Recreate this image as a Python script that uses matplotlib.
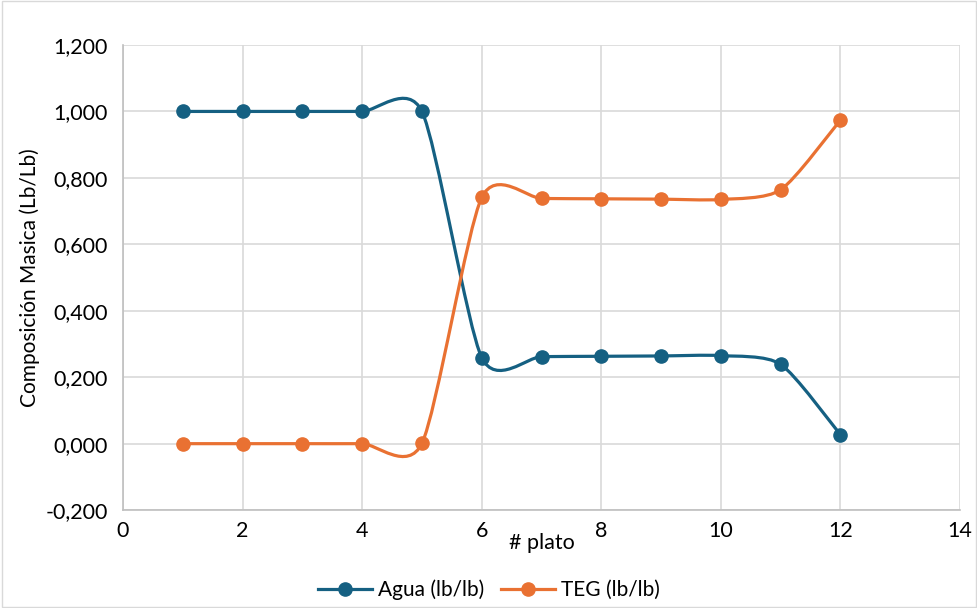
import numpy as np
import matplotlib
matplotlib.use('Agg')
import matplotlib.pyplot as plt
from matplotlib.path import Path
from matplotlib.patches import PathPatch
from matplotlib.lines import Line2D
from matplotlib.ticker import FuncFormatter

platos = [1, 2, 3, 4, 5, 6, 7, 8, 9, 10, 11, 12]
agua = [1.0, 1.0, 1.0, 1.0, 1.0, 0.259, 0.262, 0.263, 0.264, 0.265, 0.239, 0.027]
teg = [0.0, 0.0, 0.0, 0.0, 0.001, 0.741, 0.738, 0.737, 0.736, 0.735, 0.764, 0.974]

azul = '#156082'
naranja = '#E97132'

plt.rcParams['font.family'] = ['Lato', 'DejaVu Sans']


def smooth_path(x, y, k=0.12):
    # curva bezier suavizada tipo Excel
    p = np.column_stack([x, y]).astype(float)
    n = len(p)
    verts = [p[0]]
    codes = [Path.MOVETO]
    for i in range(n - 1):
        p0 = p[i - 1] if i > 0 else p[i]
        p3 = p[i + 2] if i + 2 < n else p[i + 1]
        c1 = p[i] + (p[i + 1] - p0) * k
        c2 = p[i + 1] - (p3 - p[i]) * k
        verts += [c1, c2, p[i + 1]]
        codes += [Path.CURVE4] * 3
    return Path(verts, codes)


fig = plt.figure(figsize=(9.78, 6.08), dpi=100)
ax = fig.add_axes([0.1258, 0.161, 0.8558, 0.765])

for serie, color in [(agua, azul), (teg, naranja)]:
    ax.add_patch(PathPatch(smooth_path(platos, serie), facecolor='none',
                           edgecolor=color, lw=2.3, zorder=3, capstyle='round'))
    ax.plot(platos, serie, 'o', color=color, ms=9.5, zorder=4)

ax.set_xlim(0, 14)
ax.set_ylim(-0.2, 1.2)
ax.set_xticks(range(0, 15, 2))
ax.set_yticks(np.arange(-0.2, 1.21, 0.2))
ax.yaxis.set_major_formatter(FuncFormatter(lambda v, p: ('-' if v < -1e-9 else '') + f'{abs(v):.3f}'.replace('.', ',')))
ax.grid(True, color='#d9d9d9', lw=1.2)
ax.set_axisbelow(True)
for s in ['top', 'right']:
    ax.spines[s].set_visible(False)
for s in ['left', 'bottom']:
    ax.spines[s].set_color('#bfbfbf')
    ax.spines[s].set_linewidth(1.2)
ax.tick_params(length=0, labelsize=15.5, colors='black', pad=8)
ax.tick_params(axis='y', pad=11)
ax.set_xlabel('# plato', fontsize=15.5, labelpad=-6)
ax.set_ylabel('Composición Masica (Lb/Lb)', fontsize=15, labelpad=4)

handles = [Line2D([], [], color=azul, lw=2.3, marker='o', ms=9.5),
           Line2D([], [], color=naranja, lw=2.3, marker='o', ms=9.5)]
fig.legend(handles, ['Agua (lb/lb)', 'TEG (lb/lb)'], loc='center',
           bbox_to_anchor=(0.5, 0.03), ncol=2, frameon=False, fontsize=15,
           handlelength=2.6, columnspacing=0.8, handletextpad=0.3)

fig.patches.append(plt.Rectangle((0.002, 0.002), 0.996, 0.996, transform=fig.transFigure,
                                 fill=False, edgecolor='#d9d9d9', lw=1))

fig.savefig('out.png', dpi=100)
